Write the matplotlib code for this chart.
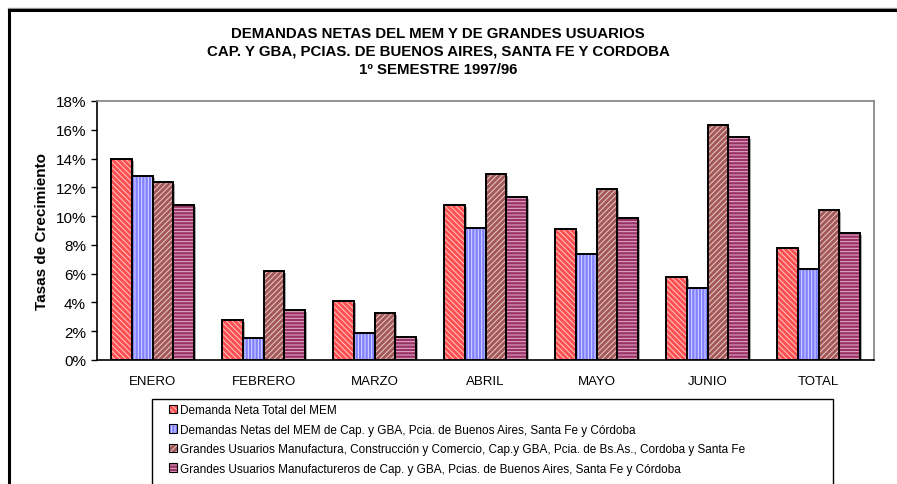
import numpy as np
import matplotlib
matplotlib.use("Agg")
import matplotlib.pyplot as plt
from matplotlib.patches import Rectangle
from matplotlib.lines import Line2D
from matplotlib.legend_handler import HandlerTuple
import matplotlib.patheffects as pe

plt.rcParams['font.family'] = ['Liberation Sans', 'DejaVu Sans']
plt.rcParams['hatch.linewidth'] = 0.7

# datos
meses = ["ENERO", "FEBRERO", "MARZO", "ABRIL", "MAYO", "JUNIO", "TOTAL"]
demanda_total = [14.0, 2.8, 4.1, 10.8, 9.1, 5.8, 7.8]
demanda_cap = [12.8, 1.5, 1.9, 9.2, 7.4, 5.0, 6.3]
gu_manuf_const = [12.4, 6.2, 3.3, 12.9, 11.9, 16.3, 10.4]
gu_manufact = [10.8, 3.5, 1.6, 11.3, 9.9, 15.5, 8.8]

etiquetas = [
    "Demanda Neta Total del MEM",
    "Demandas Netas del MEM de Cap. y GBA, Pcia. de Buenos Aires, Santa Fe y Córdoba",
    "Grandes Usuarios Manufactura, Construcción y Comercio, Cap.y GBA, Pcia. de Bs.As., Cordoba y Santa Fe",
    "Grandes Usuarios Manufactureros de Cap. y GBA, Pcias. de Buenos Aires, Santa Fe y Córdoba",
]
series = [demanda_total, demanda_cap, gu_manuf_const, gu_manufact]

# estilo de cada serie: relleno, color de trama, trama
estilos = [
    ("#ff5050", "#ffc8c8", "\\\\\\\\\\\\"),
    ("#8080ff", "#dcdcff", "|||||"),
    ("#a45858", "#e8cccc", "//////"),
    ("#993366", "#e8b0cc", "-----"),
]

W, H = 897, 485
fig = plt.figure(figsize=(W / 100, H / 100), dpi=100)
ax = fig.add_axes([97 / W, 1 - 361 / H, (874 - 97) / W, (361 - 102) / H])

x = np.arange(len(meses))
w = 0.185
handles = []
for i, (vals, (fc, hc, hatch)) in enumerate(zip(series, estilos)):
    pos = x + (i - 1.5) * w
    ax.bar(pos, vals, w, color=fc, edgecolor="none", linewidth=0, zorder=2,
           path_effects=[pe.SimplePatchShadow(offset=(1.5, -1.5), shadow_rgbFace="#888888", alpha=0.7),
                         pe.Normal()])
    ax.bar(pos, vals, w, color="none", edgecolor=hc, hatch=hatch, linewidth=0, zorder=3)
    ax.bar(pos, vals, w, color="none", edgecolor="black", linewidth=1.4, zorder=4)
    handles.append((Rectangle((0, 0), 1, 1, facecolor=fc, edgecolor="none"),
                    Rectangle((0, 0), 1, 1, facecolor="none", edgecolor=hc, hatch=hatch, linewidth=0),
                    Rectangle((0, 0), 1, 1, facecolor="none", edgecolor="black", linewidth=0.8)))

ax.set_xlim(-0.5, len(meses) - 0.5)
ax.set_ylim(0, 18)
ax.set_yticks(np.arange(0, 19, 2))
ax.set_yticklabels([f"{v}%" for v in range(0, 19, 2)], fontsize=11)
ax.set_xticks(x)
ax.set_xticklabels(meses, fontsize=9.5)
ax.tick_params(axis="x", length=0, pad=11)
ax.tick_params(axis="y", length=4.3, width=1, direction="out", pad=3.6)
ax.spines["left"].set_color("black")
ax.spines["bottom"].set_color("black")
ax.spines["top"].set_color("#808080")
ax.spines["right"].set_color("#808080")
for s in ax.spines.values():
    s.set_linewidth(1.2)
ax.set_ylabel("Tasas de Crecimiento", fontsize=11, fontweight="bold", labelpad=5)

# titulo
fig.text(438 / W, 1 - 34 / H, "DEMANDAS NETAS DEL MEM Y DE GRANDES USUARIOS",
         ha="center", va="center", fontsize=10.8, fontweight="bold")
fig.text(438 / W, 1 - 52 / H, "CAP. Y GBA, PCIAS. DE BUENOS AIRES, SANTA FE Y CORDOBA",
         ha="center", va="center", fontsize=10.8, fontweight="bold")
fig.text(438 / W, 1 - 70 / H, "1º SEMESTRE 1997/96",
         ha="center", va="center", fontsize=10.8, fontweight="bold")

# leyenda
fig.add_artist(Rectangle((152 / W, -0.05), (833 - 152) / W, 1 - 400 / H + 0.05,
                         transform=fig.transFigure, facecolor="white", edgecolor="black", linewidth=1))
fig.legend(handles, etiquetas, loc="upper left", bbox_to_anchor=(169 / W, 1 - 405 / H),
           frameon=False, fontsize=8.5, handlelength=0.7, handleheight=0.7, handletextpad=0.2,
           labelspacing=0.64, borderpad=0, borderaxespad=0,
           handler_map={tuple: HandlerTuple(ndivide=1, pad=0)})

# marco exterior
fig.add_artist(Line2D([8 / W, 1], [1 - 9 / H, 1 - 9 / H], color="#999999", linewidth=1, transform=fig.transFigure))
fig.add_artist(Line2D([9 / W, 1], [1 - 11 / H, 1 - 11 / H], color="black", linewidth=2.2, transform=fig.transFigure))
fig.add_artist(Line2D([9 / W, 9 / W], [1 - 11 / H, 0], color="black", linewidth=2.2, transform=fig.transFigure))

fig.savefig("out.png", dpi=100)
